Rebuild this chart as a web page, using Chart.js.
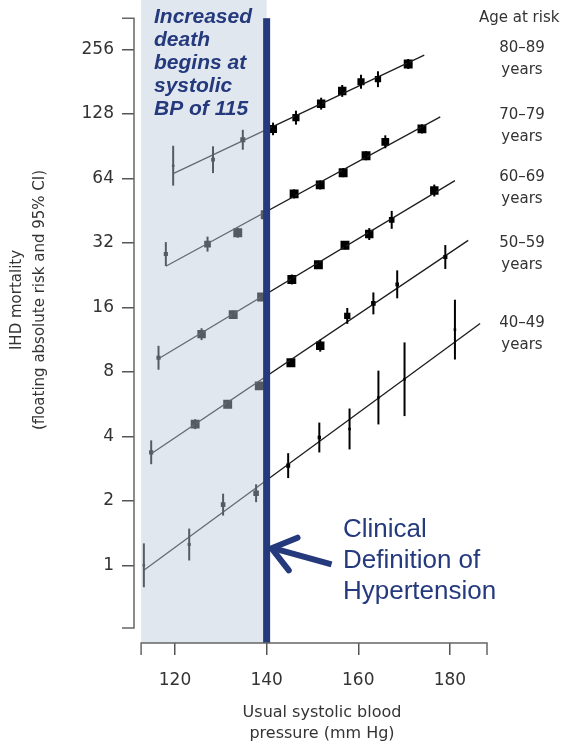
<!DOCTYPE html>
<html>
<head>
<meta charset="utf-8">
<script src="https://cdn.jsdelivr.net/npm/chart.js@4.4.1/dist/chart.umd.min.js"></script>
<style>
  html, body { margin: 0; padding: 0; background: #fff; }
</style>
</head>
<body>
<canvas id="grafica" width="561" height="746"></canvas>
<script>
// grupos de edad (de abajo hacia arriba)
const grupos = ['40–49', '50–59', '60–69', '70–79', '80–89'];

// presion sistolica usual (mm Hg) de cada punto
const sbp = [
  [113.2, 123.1, 130.5, 137.7, 144.7, 151.5, 158.1, 164.4, 170.1, 181.1],
  [114.8, 124.4, 131.5, 138.4, 145.3, 151.7, 157.6, 163.3, 168.5, 179.0],
  [116.4, 125.8, 132.7, 138.9, 145.5, 151.3, 157.1, 162.4, 167.3, 176.6],
  [118.0, 127.1, 133.7, 139.7, 146.0, 151.7, 156.7, 161.7, 165.9, 173.9],
  [119.6, 128.3, 134.8, 141.4, 146.4, 151.9, 156.5, 160.6, 164.3, 170.9]
];

// mortalidad IHD (riesgo absoluto flotante)
const riesgo = [
  [1.0, 1.25, 1.92, 2.17, 2.92, 3.95, 4.33, 6.07, 7.39, 12.6],
  [3.37, 4.56, 5.65, 6.88, 8.83, 10.6, 14.6, 16.7, 20.5, 27.5],
  [9.31, 12.0, 14.8, 17.9, 21.6, 25.3, 31.2, 35.2, 41.0, 56.2],
  [28.4, 31.6, 35.7, 43.3, 54.2, 59.7, 68.1, 81.7, 94.9, 109],
  [73.4, 78.3, 97.0, 109, 123, 143, 164, 181, 186, 219]
];

// IC 95% como factor multiplicativo (riesgo / f  ...  riesgo * f)
const ic95 = [
  [1.266, 1.187, 1.125, 1.101, 1.143, 1.174, 1.246, 1.335, 1.486, 1.379],
  [1.137, 1.055, 1.044, 1.044, 1.044, 1.066, 1.089, 1.125, 1.162, 1.137],
  [1.137, 1.066, 1.044, 1.044, 1.055, 1.044, 1.044, 1.066, 1.101, 1.066],
  [1.137, 1.084, 1.055, 1.055, 1.050, 1.050, 1.050, 1.050, 1.072, 1.050],
  [1.239, 1.155, 1.113, 1.070, 1.078, 1.066, 1.066, 1.078, 1.089, 1.055]
];

// rectas de regresion (extremos)
const rectaSbp = [[113.2, 186.6], [114.8, 184.0], [116.3, 181.1], [118.0, 177.9], [119.6, 174.4]];
const rectaRiesgo = [[0.948, 13.46], [3.32, 32.9], [9.19, 62.5], [24.9, 124], [67.4, 241]];

const ticksY = [1, 2, 4, 8, 16, 32, 64, 128, 256];
const ticksX = [120, 140, 160, 180];

const azul = '#25397d';
const fuente = 'DejaVu Sans';

var datasets = [];
grupos.forEach((g, i) => {
  datasets.push({
    type: 'line',
    label: g + ' recta',
    data: rectaSbp[i].map((x, j) => ({ x: x, y: rectaRiesgo[i][j] })),
    borderColor: '#1c1c1c',
    borderWidth: 1.3,
    pointRadius: 0,
    fill: false
  });
  datasets.push({
    type: 'scatter',
    label: g,
    data: sbp[i].map((x, j) => ({ x: x, y: riesgo[i][j], ci: ic95[i][j] })),
    pointStyle: 'rect',
    pointRadius: (c) => {
      const r = 0.55 / Math.log2(c.raw.ci);
      return Math.min(6.3, Math.max(1.8, r));
    },
    backgroundColor: '#000',
    borderColor: '#000',
    borderWidth: 0
  });
});

const extras = {
  id: 'extras',
  afterDatasetsDraw(chart) {
    const ctx = chart.ctx;
    const x = chart.scales.x;
    const y = chart.scales.y;
    const a = chart.chartArea;
    ctx.save();

    // barras de error
    ctx.strokeStyle = '#000';
    ctx.lineWidth = 2;
    sbp.forEach((fila, i) => {
      fila.forEach((v, j) => {
        const px = x.getPixelForValue(v);
        ctx.beginPath();
        ctx.moveTo(px, y.getPixelForValue(riesgo[i][j] / ic95[i][j]));
        ctx.lineTo(px, y.getPixelForValue(riesgo[i][j] * ic95[i][j]));
        ctx.stroke();
      });
    });

    // zona sombreada hasta 140
    const x0 = x.getPixelForValue(112.6);
    const x140 = x.getPixelForValue(140);
    ctx.fillStyle = 'rgba(188,202,220,0.45)';
    ctx.fillRect(x0, 0, x140 - x0, a.bottom);

    // linea de hipertension
    ctx.fillStyle = azul;
    ctx.fillRect(x140 - 3.5, a.top, 7, a.bottom - a.top);

    // ejes separados
    ctx.strokeStyle = '#666';
    ctx.lineWidth = 1.5;
    const yb = y.getPixelForValue(0.51);
    ctx.beginPath();
    ctx.moveTo(a.left - 12, a.top);
    ctx.lineTo(a.left, a.top);
    ctx.lineTo(a.left, yb);
    ctx.lineTo(a.left - 12, yb);
    ctx.stroke();
    ctx.beginPath();
    ctx.moveTo(x0, a.bottom + 12);
    ctx.lineTo(x0, a.bottom);
    ctx.lineTo(a.right, a.bottom);
    ctx.lineTo(a.right, a.bottom + 12);
    ctx.stroke();

    // titulos de ejes
    ctx.fillStyle = '#333';
    ctx.textAlign = 'center';
    ctx.textBaseline = 'middle';
    ctx.font = '16px "' + fuente + '"';
    ctx.fillText('Usual systolic blood', 322, 713);
    ctx.fillText('pressure (mm Hg)', 322, 734);
    ctx.save();
    ctx.translate(17, 300);
    ctx.rotate(-Math.PI / 2);
    ctx.font = '15px "' + fuente + '"';
    ctx.fillText('IHD mortality', 0, 0);
    ctx.fillText('(floating absolute risk and 95% CI)', 0, 23);
    ctx.restore();

    // etiquetas de edad
    ctx.font = '15px "' + fuente + '"';
    ctx.textAlign = 'left';
    ctx.fillText('Age at risk', 479, 18);
    ctx.textAlign = 'center';
    const posEdad = [323, 243, 177, 115, 48];
    grupos.forEach((g, i) => {
      ctx.fillText(g, 522, posEdad[i]);
      ctx.fillText('years', 522, posEdad[i] + 22);
    });

    // anotaciones
    ctx.fillStyle = azul;
    ctx.textAlign = 'left';
    ctx.textBaseline = 'alphabetic';
    ctx.font = 'italic bold 21px "Liberation Sans"';
    ['Increased', 'death', 'begins at', 'systolic', 'BP of 115'].forEach((t, k) => {
      ctx.fillText(t, 154, 23 + k * 23);
    });
    ctx.font = '26px "Liberation Sans"';
    ['Clinical', 'Definition of', 'Hypertension'].forEach((t, k) => {
      ctx.fillText(t, 343, 537 + k * 31);
    });

    // flecha
    const tx = x140 + 5;
    const ty = y.getPixelForValue(1.2);
    const ang = Math.atan2(16, 60);
    ctx.strokeStyle = azul;
    ctx.lineWidth = 6;
    ctx.lineCap = 'butt';
    ctx.beginPath();
    ctx.moveTo(tx + 2, ty);
    ctx.lineTo(tx + 62 * Math.cos(ang), ty + 62 * Math.sin(ang));
    ctx.stroke();
    ctx.lineCap = 'round';
    ctx.lineJoin = 'round';
    ctx.beginPath();
    ctx.moveTo(tx + 28 * Math.cos(ang - 0.65), ty + 28 * Math.sin(ang - 0.65));
    ctx.lineTo(tx, ty);
    ctx.lineTo(tx + 28 * Math.cos(ang + 0.65), ty + 28 * Math.sin(ang + 0.65));
    ctx.stroke();

    ctx.restore();
  }
};

const grafica = document.querySelector('#grafica').getContext('2d');
new Chart(grafica, {
  type: 'scatter',
  data: { datasets: datasets },
  options: {
    responsive: false,
    animation: false,
    layout: { padding: { left: 0, right: 74, top: 16, bottom: 0 } },
    plugins: { legend: { display: false }, tooltip: { enabled: false } },
    scales: {
      x: {
        type: 'linear',
        min: 111.05,
        max: 188.1,
        afterBuildTicks: (s) => { s.ticks = ticksX.map((v) => ({ value: v })); },
        afterFit: (s) => { s.height = 103; },
        border: { display: false },
        grid: { drawOnChartArea: false, tickLength: 12, color: '#555', lineWidth: 1.5 },
        ticks: { font: { family: fuente, size: 17 }, color: '#333', padding: 15, maxRotation: 0, callback: (v) => v }
      },
      y: {
        type: 'logarithmic',
        min: 0.4337,
        max: 358.4,
        afterBuildTicks: (s) => { s.ticks = ticksY.map((v) => ({ value: v })); },
        afterFit: (s) => { s.width = 134; },
        border: { display: false },
        grid: { drawOnChartArea: false, tickLength: 12, color: '#555', lineWidth: 1.5 },
        ticks: { font: { family: fuente, size: 17 }, color: '#333', padding: 8, callback: (v) => v }
      }
    }
  },
  plugins: [extras]
});
</script>
</body>
</html>
